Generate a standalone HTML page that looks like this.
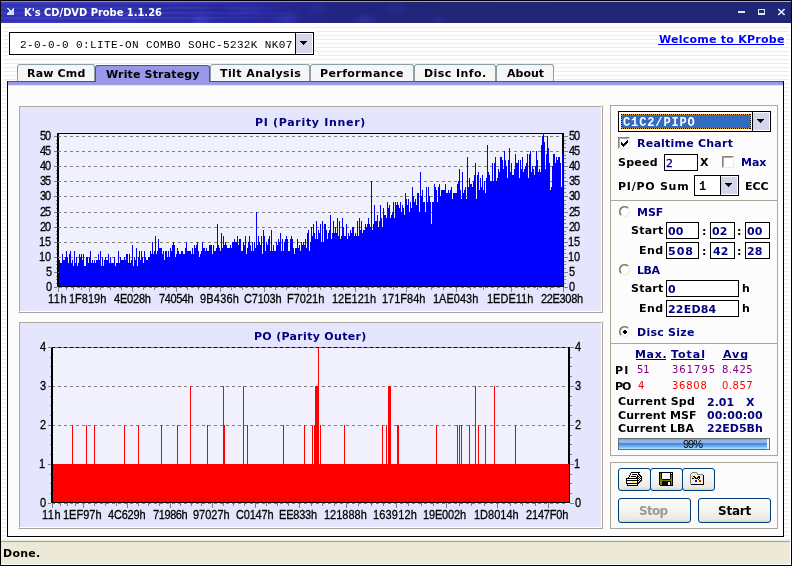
<!DOCTYPE html>
<html><head><meta charset="utf-8"><title>K's CD/DVD Probe 1.1.26</title>
<style>
html,body{margin:0;padding:0;background:#fff;}
#w{position:relative;width:792px;height:566px;overflow:hidden;background:#fff;font:bold 11px 'DejaVu Sans','Liberation Sans',sans-serif;}
#w div,#w span,#w svg,#w a{position:absolute;box-sizing:border-box;}
.t{white-space:pre;height:20px;line-height:20px;}
.stripes{left:2px;top:24px;width:788px;height:515px;background:repeating-linear-gradient(to bottom,#fff 0,#fff 3px,#eeeeee 3px,#eeeeee 4px);background-position:0 0;}
.tab{top:64px;height:18px;border:1px solid #8e9ea8;border-bottom:none;border-radius:3px 3px 0 0;background:#f6f6f6;}
.tabsel{top:65px;height:17px;border:1px solid #4c4cba;border-bottom:none;border-radius:3px 3px 0 0;background:#9898e8;}
.inp{border:1px solid #000;background:#fff;}
.cp{border:1px solid #aca899;background:#e6e6fa;}
.gb{border:1px solid #aca899;}
.btn{border:1px solid #003c74;border-radius:3px;background:linear-gradient(to bottom,#fbfbf9 0,#f4f4f0 50%,#eceae3 85%,#dad8cb 100%);}
.ul{height:1px;background:#000080;}
.chk{width:12px;height:12px;background:#fff;border:1px solid;border-color:#8a8a7c #ecebdf #ecebdf #8a8a7c;}
.chk i{position:absolute;left:0;top:0;width:10px;height:10px;border:1px solid;border-color:#aaa99b #fff #fff #aaa99b;box-sizing:border-box;}
</style></head><body>
<div id="w">

<div class="stripes"></div>
<div style="left:0;top:0;width:792px;height:23px;background:#202576;"></div>
<div style="left:1px;top:1px;width:790px;height:22px;background:radial-gradient(ellipse 12px 8px at 200px 19px,rgba(72,72,230,0.55),rgba(72,72,230,0) 100%),radial-gradient(ellipse 26px 9px at 248px 10px,rgba(60,60,200,0.35),rgba(60,60,200,0) 100%),radial-gradient(ellipse 16px 9px at 286px 18px,rgba(64,64,210,0.45),rgba(64,64,210,0) 100%),radial-gradient(ellipse 12px 4px at 216px 7px,rgba(24,24,120,0.35),rgba(24,24,120,0) 100%),radial-gradient(ellipse 13px 8px at 315px 8px,rgba(56,56,190,0.30),rgba(56,56,190,0) 100%),radial-gradient(ellipse 14px 8px at 364px 19px,rgba(64,64,200,0.40),rgba(64,64,200,0) 100%),radial-gradient(ellipse 13px 8px at 395px 7px,rgba(56,56,190,0.30),rgba(56,56,190,0) 100%),radial-gradient(ellipse 9px 6px at 438px 20px,rgba(56,56,190,0.35),rgba(56,56,190,0) 100%),radial-gradient(ellipse 30px 9px at 120px 18px,rgba(72,72,235,0.35),rgba(72,72,235,0) 100%),radial-gradient(ellipse 30px 8px at 40px 20px,rgba(70,70,230,0.30),rgba(70,70,230,0) 100%),radial-gradient(ellipse 30px 5px at 150px 6px,rgba(30,30,140,0.25),rgba(30,30,140,0) 100%),linear-gradient(to right,#3636be 0,#3333b6 100px,#2e2eac 190px,#2828a0 255px,#24268c 300px,#222480 345px,#202576 450px,#202576 100%);"></div>
<div style="left:1px;top:2px;width:320px;height:21px;background:repeating-linear-gradient(to bottom,rgba(255,255,255,.04) 0,rgba(255,255,255,.04) 2px,rgba(0,0,40,.07) 2px,rgba(0,0,40,.07) 5px);-webkit-mask-image:linear-gradient(to right,#000 0,#000 55%,transparent 100%);mask-image:linear-gradient(to right,#000 0,#000 55%,transparent 100%);"></div>
<div style="left:1px;top:1px;width:790px;height:1px;background:linear-gradient(to right,#8080e0,#9a9ad8 50%,#a8a8d8);"></div>
<div style="left:0;top:0;width:792px;height:1px;background:#000;"></div>
<div style="left:0;top:0;width:1px;height:566px;background:#000;"></div>
<div style="left:791px;top:0;width:1px;height:566px;background:#000;"></div>
<div style="left:790px;top:23px;width:1px;height:542px;background:#fff;"></div>
<svg style="left:7px;top:8px" width="7" height="7" shape-rendering="crispEdges"><path d="M0 0h2v1h-2zM6 0h1v1h-1zM1 1h2v1h-2zM5 1h2v1h-2zM2 2h5v1h-5zM2 3h5v1h-5zM1 4h6v1h-6zM0 5h7v1h-7zM0 6h7v1h-7z" fill="#cddcfa"/></svg>
<div style="left:738px;top:11px;width:7px;height:2px;background:#dfe6ff;"></div>
<div style="left:758px;top:9px;width:7px;height:6px;border:1px solid #dfe6ff;border-bottom-width:2px;"></div>
<svg style="left:777px;top:8px" width="9" height="8" viewBox="0 0 9 8"><path d="M1.2 1l6.4 6M7.6 1L1.2 7" stroke="#e4eaff" stroke-width="1.7" fill="none"/></svg>
<div style="left:8px;top:31px;width:307px;height:25px;background:#fff;"></div>
<div class="inp" style="left:9px;top:32px;width:305px;height:23px;"></div>
<div style="left:295px;top:32px;width:1px;height:23px;background:#000;"></div>
<div style="left:296px;top:34px;width:16px;height:19px;background:#d5d5ec;"></div>
<svg style="left:300px;top:41px" width="7" height="4" shape-rendering="crispEdges"><path d="M0 0h7v1h-1v1h-1v1h-1v1h-1v-1h-1v-1h-1v-1h-1z" fill="#000"/></svg>
<div style="left:658px;top:33px;width:127px;height:13px;background:#fff;"></div>
<div style="left:658px;top:44px;width:126px;height:1px;background:#0000ff;"></div>
<div style="left:7px;top:81px;width:777px;height:456px;background:#fcfcfc;border:1px solid #000;border-top:none;"></div>
<div style="left:8px;top:81px;width:775px;height:1px;background:#4a4ab8;"></div>
<div style="left:8px;top:82px;width:775px;height:3px;background:linear-gradient(to bottom,#9898e8 0,#9898e8 66%,#a2a2ec 100%);"></div>
<div style="left:8px;top:85px;width:775px;height:1px;background:#e4e4ec;"></div>
<div class="tab" style="left:17px;width:78px;height:17px;"></div>
<div class="tabsel" style="left:95px;width:115px;"></div>
<div class="tab" style="left:210px;width:100px;height:17px;"></div>
<div class="tab" style="left:310px;width:104px;height:17px;"></div>
<div class="tab" style="left:414px;width:82px;height:17px;"></div>
<div class="tab" style="left:496px;width:58px;height:17px;"></div>
<div style="left:18px;top:105px;width:585px;height:208px;border:1px solid;border-color:#fff #aca899 #aca899 #fff;"></div>
<div style="left:19px;top:106px;width:583px;height:206px;border:1px solid;border-color:#aca899 #fff #fff #aca899;background:#e5e5fe;"></div>
<div style="left:18px;top:321px;width:585px;height:208px;border:1px solid;border-color:#fff #aca899 #aca899 #fff;"></div>
<div style="left:19px;top:322px;width:583px;height:206px;border:1px solid;border-color:#aca899 #fff #fff #aca899;background:#e5e5fe;"></div>
<svg style="left:0;top:0" width="792" height="566" viewBox="0 0 792 566" shape-rendering="crispEdges">
<rect x="57" y="133" width="507" height="154" fill="#f1f1fe"/>
<path d="M58 136.5H562" stroke="#808080" stroke-width="1" stroke-dasharray="3 3" fill="none"/>
<path d="M58 151.5H562" stroke="#808080" stroke-width="1" stroke-dasharray="3 3" fill="none"/>
<path d="M58 166.5H562" stroke="#808080" stroke-width="1" stroke-dasharray="3 3" fill="none"/>
<path d="M58 181.5H562" stroke="#808080" stroke-width="1" stroke-dasharray="3 3" fill="none"/>
<path d="M58 196.5H562" stroke="#808080" stroke-width="1" stroke-dasharray="3 3" fill="none"/>
<path d="M58 212.5H562" stroke="#808080" stroke-width="1" stroke-dasharray="3 3" fill="none"/>
<path d="M58 227.5H562" stroke="#808080" stroke-width="1" stroke-dasharray="3 3" fill="none"/>
<path d="M58 242.5H562" stroke="#808080" stroke-width="1" stroke-dasharray="3 3" fill="none"/>
<path d="M58 257.5H562" stroke="#808080" stroke-width="1" stroke-dasharray="3 3" fill="none"/>
<path d="M58 272.5H562" stroke="#808080" stroke-width="1" stroke-dasharray="3 3" fill="none"/>
<rect x="57" y="133" width="2" height="154" fill="#000"/>
<rect x="562" y="133" width="2" height="154" fill="#000"/>
<rect x="58" y="136" width="1" height="1" fill="#808080"/>
<rect x="58" y="151" width="1" height="1" fill="#808080"/>
<rect x="58" y="166" width="1" height="1" fill="#808080"/>
<rect x="58" y="181" width="1" height="1" fill="#808080"/>
<rect x="58" y="196" width="1" height="1" fill="#808080"/>
<rect x="58" y="212" width="1" height="1" fill="#808080"/>
<rect x="58" y="227" width="1" height="1" fill="#808080"/>
<rect x="58" y="242" width="1" height="1" fill="#808080"/>
<rect x="58" y="257" width="1" height="1" fill="#808080"/>
<rect x="58" y="272" width="1" height="1" fill="#808080"/>
<path d="M59 286V260H60V263H61V263H62V254H63V260H64V260H65V257H66V251H67V257H68V263H69V254H70V251H71V263H72V260H73V266H74V251H75V263H76V257H77V266H78V263H79V254H80V257H81V254H82V260H83V254H84V266H85V266H86V257H87V257H88V263H89V257H90V251H91V263H92V260H93V263H94V260H95V263H96V260H97V260H98V254H99V260H100V251H101V266H102V257H103V266H104V260H105V257H106V260H107V260H108V254H109V263H110V257H111V263H112V263H113V263H114V257H115V266H116V263H117V263H118V251H119V263H120V257H121V260H122V260H123V260H124V257H125V260H126V254H127V254H128V263H129V254H130V263H131V260H132V245H133V266H134V257H135V260H136V248H137V266H138V257H139V251H140V260H141V251H142V257H143V263H144V251H145V257H146V260H147V260H148V257H149V257H150V251H151V254H152V242H153V254H154V251H155V236H156V254H157V251H158V239H159V248H160V248H161V248H162V254H163V251H164V260H165V251H166V251H167V257H168V251H169V257H170V248H171V251H172V245H173V242H174V245H175V257H176V254H177V248H178V251H179V254H180V254H181V251H182V251H183V254H184V254H185V248H186V242H187V251H188V251H189V251H190V251H191V254H192V248H193V254H194V245H195V248H196V245H197V242H198V251H199V257H200V254H201V251H202V242H203V248H204V248H205V251H206V248H207V251H208V251H209V245H210V245H211V245H212V254H213V245H214V251H215V251H216V248H217V224H218V245H219V248H220V251H221V233H222V248H223V236H224V245H225V242H226V245H227V248H228V248H229V248H230V245H231V248H232V242H233V242H234V239H235V242H236V242H237V236H238V245H239V239H240V239H241V251H242V251H243V242H244V245H245V236H246V254H247V248H248V242H249V236H250V245H251V251H252V242H253V251H254V242H255V248H256V212H257V245H258V236H259V242H260V245H261V236H262V254H263V230H264V236H265V251H266V242H267V245H268V239H269V236H270V251H271V230H272V251H273V245H274V251H275V251H276V242H277V245H278V239H279V242H280V233H281V251H282V239H283V251H284V242H285V239H286V236H287V239H288V251H289V251H290V239H291V236H292V239H293V248H294V254H295V248H296V248H297V239H298V248H299V245H300V251H301V242H302V245H303V242H304V245H305V239H306V248H307V233H308V230H309V251H310V242H311V227H312V236H313V224H314V233H315V239H316V221H317V239H318V230H319V233H320V224H321V242H322V221H323V242H324V224H325V224H326V230H327V239H328V233H329V230H330V215H331V239H332V233H333V221H334V233H335V227H336V233H337V218H338V236H339V221H340V239H341V236H342V218H343V227H344V236H345V236H346V224H347V239H348V233H349V236H350V230H351V233H352V227H353V227H354V236H355V233H356V236H357V221H358V236H359V218H360V230H361V221H362V233H363V230H364V230H365V224H366V227H367V224H368V218H369V224H370V227H371V181H372V230H373V224H374V205H375V221H376V221H377V215H378V227H379V221H380V205H381V218H382V227H383V208H384V215H385V215H386V218H387V202H388V208H389V205H390V218H391V215H392V212H393V202H394V218H395V202H396V205H397V202H398V205H399V208H400V202H401V212H402V205H403V208H404V215H405V193H406V199H407V205H408V199H409V212H410V202H411V208H412V187H413V196H414V202H415V199H416V205H417V193H418V193H419V212H420V172H421V196H422V190H423V202H424V202H425V212H426V187H427V202H428V187H429V196H430V202H431V224H432V202H433V202H434V184H435V187H436V190H437V202H438V187H439V184H440V196H441V190H442V190H443V190H444V190H445V184H446V193H447V193H448V190H449V193H450V190H451V187H452V199H453V193H454V193H455V193H456V193H457V184H458V181H459V169H460V190H461V199H462V172H463V193H464V190H465V187H466V199H467V157H468V187H469V178H470V184H471V184H472V187H473V181H474V175H475V163H476V199H477V175H478V172H479V190H480V178H481V187H482V175H483V190H484V181H485V193H486V178H487V145H488V172H489V175H490V181H491V181H492V163H493V181H494V163H495V157H496V181H497V178H498V169H499V172H500V157H501V157H502V160H503V169H504V151H505V160H506V166H507V178H508V160H509V148H510V172H511V163H512V175H513V175H514V169H515V154H516V163H517V163H518V160H519V178H520V160H521V169H522V157H523V172H524V169H525V166H526V163H527V154H528V178H529V154H530V151H531V172H532V166H533V169H534V175H535V166H536V151H537V160H538V172H539V169H540V172H541V145H542V136H543V134H544V142H545V169H546V154H547V136H548V148H549V163H550V190H551V187H552V166H553V154H554V154H555V163H556V157H557V160H558V157H559V157H560V163H561V187H562V154H563V286Z" fill="#0000ff"/>
<rect x="57" y="133" width="507" height="1" fill="#000"/>
<rect x="57" y="286" width="507" height="1" fill="#000"/>
<path d="M59 287.5H562" stroke="#808080" stroke-width="1" stroke-dasharray="3 3" fill="none"/>
<path d="M54 136.5h3M564 136.5h4M56 140.5h1M564 140.5h2M56 143.5h1M564 143.5h2M56 147.5h1M564 147.5h2M54 151.5h3M564 151.5h4M56 155.5h1M564 155.5h2M56 158.5h1M564 158.5h2M56 162.5h1M564 162.5h2M54 166.5h3M564 166.5h4M56 170.5h1M564 170.5h2M56 173.5h1M564 173.5h2M56 177.5h1M564 177.5h2M54 181.5h3M564 181.5h4M56 185.5h1M564 185.5h2M56 188.5h1M564 188.5h2M56 192.5h1M564 192.5h2M54 196.5h3M564 196.5h4M56 200.5h1M564 200.5h2M56 204.5h1M564 204.5h2M56 208.5h1M564 208.5h2M54 212.5h3M564 212.5h4M56 216.5h1M564 216.5h2M56 219.5h1M564 219.5h2M56 223.5h1M564 223.5h2M54 227.5h3M564 227.5h4M56 231.5h1M564 231.5h2M56 234.5h1M564 234.5h2M56 238.5h1M564 238.5h2M54 242.5h3M564 242.5h4M56 246.5h1M564 246.5h2M56 249.5h1M564 249.5h2M56 253.5h1M564 253.5h2M54 257.5h3M564 257.5h4M56 261.5h1M564 261.5h2M56 264.5h1M564 264.5h2M56 268.5h1M564 268.5h2M54 272.5h3M564 272.5h4M56 276.5h1M564 276.5h2M56 279.5h1M564 279.5h2M56 283.5h1M564 283.5h2M54 287.5h3M564 287.5h4" stroke="#808080" stroke-width="1" fill="none"/>
<path d="M58.5 287v5M66.5 287v3M73.5 287v3M81.5 287v3M89.5 287v5M100.5 287v3M110.5 287v3M121.5 287v3M132.5 287v5M143.5 287v3M154.5 287v3M165.5 287v3M176.5 287v5M187.5 287v3M198.5 287v3M209.5 287v3M220.5 287v5M231.5 287v3M242.5 287v3M253.5 287v3M264.5 287v5M275.5 287v3M286.5 287v3M297.5 287v3M308.5 287v5M320.5 287v3M331.5 287v3M343.5 287v3M355.5 287v5M368.5 287v3M380.5 287v3M393.5 287v3M406.5 287v5M418.5 287v3M431.5 287v3M443.5 287v3M456.5 287v5M470.5 287v3M483.5 287v3M497.5 287v3M511.5 287v5M524.5 287v3M537.5 287v3M550.5 287v3M563.5 287v5" stroke="#808080" stroke-width="1" fill="none"/>
<rect x="51" y="347" width="519" height="157" fill="#f1f1fe"/>
<path d="M52 386.5H568" stroke="#808080" stroke-width="1" stroke-dasharray="3 3" fill="none"/>
<path d="M52 425.5H568" stroke="#808080" stroke-width="1" stroke-dasharray="3 3" fill="none"/>
<path d="M52 464.5H568" stroke="#808080" stroke-width="1" stroke-dasharray="3 3" fill="none"/>
<rect x="51" y="347" width="2" height="156" fill="#000"/>
<rect x="568" y="347" width="2" height="156" fill="#000"/>
<path d="M53 464H569V502H53ZM72 425h1V464h-1ZM86 425h1V464h-1ZM94 425h1V464h-1ZM124 425h1V464h-1ZM138 425h1V464h-1ZM161 425h1V464h-1ZM177 425h1V464h-1ZM190 386h1V464h-1ZM207 425h1V464h-1ZM223 386h1V464h-1ZM224 425h1V464h-1ZM243 386h1V464h-1ZM247 425h1V464h-1ZM283 425h1V464h-1ZM304 425h1V464h-1ZM312 425h1V464h-1ZM314 425h1V464h-1ZM315 386h1V464h-1ZM316 386h1V464h-1ZM317 386h1V464h-1ZM318 347h1V464h-1ZM320 425h1V464h-1ZM344 425h1V464h-1ZM382 425h1V464h-1ZM386 425h1V464h-1ZM388 386h1V464h-1ZM389 386h1V464h-1ZM390 386h1V464h-1ZM397 425h1V464h-1ZM398 425h1V464h-1ZM436 425h1V464h-1ZM457 425h1V464h-1ZM459 425h1V464h-1ZM461 425h1V464h-1ZM469 425h1V464h-1ZM475 386h1V464h-1ZM478 425h1V464h-1ZM485 425h1V464h-1ZM494 386h1V464h-1ZM515 425h1V464h-1Z" fill="#ff0000"/>
<path d="M48 347.5H574" stroke="#808080" stroke-width="1" fill="none"/>
<path d="M52 347.5H570" stroke="#000" stroke-width="1" stroke-dasharray="3 3" fill="none"/>
<rect x="51" y="502" width="519" height="1" fill="#000"/>
<path d="M52 503.5H568" stroke="#808080" stroke-width="1" stroke-dasharray="3 3" fill="none"/>
<path d="M48 347.5h3M570 347.5h4M50 357.5h1M570 357.5h2M50 366.5h1M570 366.5h2M50 376.5h1M570 376.5h2M48 386.5h3M570 386.5h4M50 396.5h1M570 396.5h2M50 405.5h1M570 405.5h2M50 415.5h1M570 415.5h2M48 425.5h3M570 425.5h4M50 435.5h1M570 435.5h2M50 444.5h1M570 444.5h2M50 454.5h1M570 454.5h2M48 464.5h3M570 464.5h4M50 474.5h1M570 474.5h2M50 483.5h1M570 483.5h2M50 493.5h1M570 493.5h2M48 503.5h3M570 503.5h4" stroke="#808080" stroke-width="1" fill="none"/>
<path d="M52.5 503v5M60.5 503v3M67.5 503v3M75.5 503v3M83.5 503v5M94.5 503v3M105.5 503v3M116.5 503v3M127.5 503v5M138.5 503v3M148.5 503v3M159.5 503v3M170.5 503v5M180.5 503v3M191.5 503v3M201.5 503v3M212.5 503v5M223.5 503v3M233.5 503v3M244.5 503v3M255.5 503v5M266.5 503v3M277.5 503v3M288.5 503v3M299.5 503v5M311.5 503v3M322.5 503v3M334.5 503v3M346.5 503v5M358.5 503v3M371.5 503v3M383.5 503v3M396.5 503v5M408.5 503v3M421.5 503v3M433.5 503v3M446.5 503v5M459.5 503v3M471.5 503v3M484.5 503v3M497.5 503v5M510.5 503v3M522.5 503v3M535.5 503v3M548.5 503v5" stroke="#808080" stroke-width="1" fill="none"/>
</svg>
<div class="gb" style="left:610px;top:105px;width:168px;height:351px;"></div>
<div style="left:611px;top:200px;width:166px;height:1px;background:#aca899;"></div>
<div style="left:611px;top:343px;width:166px;height:1px;background:#aca899;"></div>
<div class="gb" style="left:610px;top:462px;width:168px;height:67px;"></div>
<div class="inp" style="left:618px;top:111px;width:153px;height:21px;"></div>
<div style="left:621px;top:114px;width:130px;height:15px;background:#316ac5;"></div>
<div style="left:621px;top:114px;width:130px;height:1px;background:repeating-linear-gradient(to right,#000 0,#000 1px,#f5a93c 1px,#f5a93c 2px);"></div>
<div style="left:621px;top:128px;width:130px;height:1px;background:repeating-linear-gradient(to right,#000 0,#000 1px,#f5a93c 1px,#f5a93c 2px);"></div>
<div style="left:621px;top:114px;width:1px;height:15px;background:repeating-linear-gradient(to bottom,#000 0,#000 1px,#f5a93c 1px,#f5a93c 2px);"></div>
<div style="left:750px;top:114px;width:1px;height:15px;background:repeating-linear-gradient(to bottom,#000 0,#000 1px,#f5a93c 1px,#f5a93c 2px);"></div>
<div style="left:752px;top:111px;width:1px;height:21px;background:#000;"></div>
<div style="left:753px;top:113px;width:16px;height:17px;background:#d5d5ec;"></div>
<svg style="left:757px;top:119px" width="7" height="4" shape-rendering="crispEdges"><path d="M0 0h7v1h-1v1h-1v1h-1v1h-1v-1h-1v-1h-1v-1h-1z" fill="#000"/></svg>
<div class="chk" style="left:618px;top:137px;"><i></i></div>
<svg style="left:621px;top:140px" width="7" height="7" shape-rendering="crispEdges"><path d="M0 2h1v1h1v1h1v-1h1v-1h1v-1h1v-1h1v3h-1v1h-1v1h-1v1h-1v1h-1v-1h-1v-1h-1z" fill="#000"/></svg>
<div class="inp" style="left:664px;top:154px;width:34px;height:17px;"></div>
<div class="chk" style="left:722px;top:156px;"><i></i></div>
<div class="inp" style="left:694px;top:175px;width:45px;height:21px;"></div>
<div style="left:720px;top:175px;width:1px;height:21px;background:#000;"></div>
<div style="left:721px;top:177px;width:16px;height:17px;background:#d5d5ec;"></div>
<svg style="left:725px;top:183px" width="7" height="4" shape-rendering="crispEdges"><path d="M0 0h7v1h-1v1h-1v1h-1v1h-1v-1h-1v-1h-1v-1h-1z" fill="#000"/></svg>
<svg style="left:619px;top:206px" width="12" height="12" viewBox="0 0 12 12"><circle cx="5.6" cy="5.6" r="5" fill="#fff"/><path d="M2.2 9A4.8 4.8 0 0 1 9 2.2" stroke="#808074" stroke-width="1.8" fill="none"/><path d="M9 2.2A4.8 4.8 0 0 1 2.2 9" stroke="#efeee2" stroke-width="1.2" fill="none"/></svg>
<svg style="left:619px;top:264px" width="12" height="12" viewBox="0 0 12 12"><circle cx="5.6" cy="5.6" r="5" fill="#fff"/><path d="M2.2 9A4.8 4.8 0 0 1 9 2.2" stroke="#808074" stroke-width="1.8" fill="none"/><path d="M9 2.2A4.8 4.8 0 0 1 2.2 9" stroke="#efeee2" stroke-width="1.2" fill="none"/></svg>
<svg style="left:619px;top:326px" width="12" height="12" viewBox="0 0 12 12"><circle cx="5.6" cy="5.6" r="5" fill="#fff"/><path d="M2.2 9A4.8 4.8 0 0 1 9 2.2" stroke="#808074" stroke-width="1.8" fill="none"/><path d="M9 2.2A4.8 4.8 0 0 1 2.2 9" stroke="#efeee2" stroke-width="1.2" fill="none"/><path d="M5 4h2v1h1v2h-1v1h-2v-1h-1v-2h1z" fill="#000" shape-rendering="crispEdges"/></svg>
<div class="inp" style="left:666px;top:222px;width:33px;height:17px;"></div>
<div class="inp" style="left:710px;top:222px;width:25px;height:17px;"></div>
<div class="inp" style="left:745px;top:222px;width:25px;height:17px;"></div>
<div class="inp" style="left:666px;top:242px;width:33px;height:17px;"></div>
<div class="inp" style="left:710px;top:242px;width:25px;height:17px;"></div>
<div class="inp" style="left:745px;top:242px;width:25px;height:17px;"></div>
<div class="inp" style="left:666px;top:280px;width:73px;height:17px;"></div>
<div class="inp" style="left:666px;top:300px;width:73px;height:17px;"></div>
<div class="ul" style="left:636px;top:359px;width:30px;"></div>
<div class="ul" style="left:671px;top:359px;width:33px;"></div>
<div class="ul" style="left:722px;top:359px;width:25px;"></div>
<div style="left:618px;top:438px;width:152px;height:12px;border:1px solid #6e6e6e;background:#eef3fb;"></div>
<div style="left:619px;top:439px;width:148px;height:10px;background:linear-gradient(to bottom,#7aa2e0 0,#7aa2e0 1px,#92b8ea 1px,#8eb6e8 4px,#4585de 4px,#4f8fe8 5.5px,#74b2f8 7.5px,#9ee2ff 9.5px,#a4eaff 10px);"></div>
<div class="btn" style="left:618px;top:468px;width:33px;height:23px;"></div>
<div class="btn" style="left:650px;top:468px;width:33px;height:23px;"></div>
<div class="btn" style="left:682px;top:468px;width:33px;height:23px;"></div>
<svg style="left:625px;top:472px" width="17" height="14" viewBox="0 0 17 14" shape-rendering="crispEdges"><path d="M6 0h9v1h-9zM5 1h1v1h-1zM13 1h1v1h-1zM5 2h1v1h-1zM7 2h5v1h-5zM13 2h2v1h-2zM4 3h1v1h-1zM12 3h1v1h-1zM14 3h2v1h-2zM4 4h1v1h-1zM6 4h5v1h-5zM12 4h2v1h-2zM15 4h2v1h-2zM3 5h1v1h-1zM11 5h2v1h-2zM14 5h1v1h-1zM16 5h1v1h-1zM1 6h13v1h-13zM15 6h2v1h-2zM1 7h1v1h-1zM12 7h1v1h-1zM14 7h1v1h-1zM16 7h1v1h-1zM1 8h13v1h-13zM15 8h2v1h-2zM1 9h1v1h-1zM12 9h1v1h-1zM14 9h2v1h-2zM1 10h1v1h-1zM12 10h3v1h-3zM1 11h13v1h-13zM2 12h1v1h-1zM12 12h1v1h-1zM2 13h11v1h-11z" fill="#000"/><path d="M6 1h7v1h-7zM6 2h1v1h-1zM12 2h1v1h-1zM5 3h7v1h-7zM13 3h1v1h-1zM5 4h1v1h-1zM11 4h1v1h-1zM14 4h1v1h-1zM4 5h7v1h-7zM13 5h1v1h-1zM15 5h1v1h-1zM14 6h1v1h-1zM2 7h10v1h-10zM13 7h1v1h-1zM15 7h1v1h-1zM14 8h1v1h-1zM2 9h5v1h-5zM10 9h2v1h-2zM13 9h1v1h-1zM2 10h5v1h-5zM10 10h2v1h-2zM3 12h9v1h-9z" fill="#fff"/><path d="M7 9h3v1h-3zM7 10h3v1h-3z" fill="#ffff00"/></svg>
<svg style="left:659px;top:472px" width="14" height="14" viewBox="0 0 14 14" shape-rendering="crispEdges"><path d="M0 0h14v1h-14zM0 1h1v1h-1zM2 1h1v1h-1zM11 1h1v1h-1zM13 1h1v1h-1zM0 2h1v1h-1zM2 2h1v1h-1zM11 2h3v1h-3zM0 3h1v1h-1zM2 3h1v1h-1zM11 3h1v1h-1zM13 3h1v1h-1zM0 4h1v1h-1zM2 4h1v1h-1zM11 4h1v1h-1zM13 4h1v1h-1zM0 5h1v1h-1zM2 5h1v1h-1zM11 5h1v1h-1zM13 5h1v1h-1zM0 6h1v1h-1zM2 6h1v1h-1zM11 6h1v1h-1zM13 6h1v1h-1zM0 7h1v1h-1zM3 7h8v1h-8zM13 7h1v1h-1zM0 8h1v1h-1zM13 8h1v1h-1zM0 9h1v1h-1zM3 9h9v1h-9zM13 9h1v1h-1zM0 10h1v1h-1zM3 10h6v1h-6zM11 10h1v1h-1zM13 10h1v1h-1zM0 11h1v1h-1zM3 11h6v1h-6zM11 11h1v1h-1zM13 11h1v1h-1zM0 12h1v1h-1zM3 12h6v1h-6zM11 12h1v1h-1zM13 12h1v1h-1zM1 13h13v1h-13z" fill="#000"/><path d="M1 1h1v1h-1zM1 2h1v1h-1zM1 3h1v1h-1zM12 3h1v1h-1zM1 4h1v1h-1zM12 4h1v1h-1zM1 5h1v1h-1zM12 5h1v1h-1zM1 6h1v1h-1zM12 6h1v1h-1zM1 7h2v1h-2zM11 7h2v1h-2zM1 8h12v1h-12zM1 9h2v1h-2zM12 9h1v1h-1zM1 10h2v1h-2zM12 10h1v1h-1zM1 11h2v1h-2zM12 11h1v1h-1zM1 12h2v1h-2zM12 12h1v1h-1z" fill="#808000"/><path d="M3 1h8v1h-8zM12 1h1v1h-1zM3 2h8v1h-8zM3 3h8v1h-8zM3 4h8v1h-8zM3 5h8v1h-8zM3 6h8v1h-8zM9 10h2v1h-2zM9 11h2v1h-2zM9 12h2v1h-2z" fill="#fff"/></svg>
<svg style="left:690px;top:472px" width="14" height="13" viewBox="0 0 14 13" shape-rendering="crispEdges"><path d="M2 0h5v1h-5zM1 1h1v1h-1zM7 1h1v1h-1zM0 2h1v1h-1zM7 2h6v1h-6zM0 3h1v1h-1zM0 4h1v1h-1zM0 5h1v1h-1zM0 6h1v1h-1zM0 7h1v1h-1zM0 8h1v1h-1zM0 9h1v1h-1zM0 10h1v1h-1zM0 11h1v1h-1z" fill="#808080"/><path d="M2 1h1v1h-1zM4 1h1v1h-1zM6 1h1v1h-1zM1 2h1v1h-1zM3 2h1v1h-1zM5 2h1v1h-1zM2 3h1v1h-1zM4 3h1v1h-1zM6 3h1v1h-1zM8 3h1v1h-1zM10 3h1v1h-1zM12 3h1v1h-1zM1 4h1v1h-1zM6 4h1v1h-1zM11 4h1v1h-1zM2 5h1v1h-1zM10 5h1v1h-1zM12 5h1v1h-1zM1 6h1v1h-1zM11 6h1v1h-1zM2 7h1v1h-1zM4 7h1v1h-1zM6 7h1v1h-1zM10 7h1v1h-1zM12 7h1v1h-1zM1 8h1v1h-1zM3 8h1v1h-1zM8 8h1v1h-1zM11 8h1v1h-1zM2 9h1v1h-1zM4 9h1v1h-1zM7 9h1v1h-1zM12 9h1v1h-1zM1 10h1v1h-1zM3 10h1v1h-1zM5 10h1v1h-1zM7 10h1v1h-1zM9 10h1v1h-1zM11 10h1v1h-1zM2 11h1v1h-1zM4 11h1v1h-1zM6 11h1v1h-1zM8 11h1v1h-1zM10 11h1v1h-1zM12 11h1v1h-1z" fill="#ffff00"/><path d="M3 1h1v1h-1zM5 1h1v1h-1zM2 2h1v1h-1zM4 2h1v1h-1zM6 2h1v1h-1zM1 3h1v1h-1zM3 3h1v1h-1zM5 3h1v1h-1zM7 3h1v1h-1zM9 3h1v1h-1zM11 3h1v1h-1zM2 4h1v1h-1zM5 4h1v1h-1zM7 4h1v1h-1zM10 4h1v1h-1zM12 4h1v1h-1zM1 5h1v1h-1zM3 5h1v1h-1zM6 5h1v1h-1zM11 5h1v1h-1zM4 6h1v1h-1zM8 6h1v1h-1zM10 6h1v1h-1zM12 6h1v1h-1zM1 7h1v1h-1zM3 7h1v1h-1zM5 7h1v1h-1zM7 7h1v1h-1zM9 7h1v1h-1zM11 7h1v1h-1zM2 8h1v1h-1zM4 8h1v1h-1zM7 8h1v1h-1zM12 8h1v1h-1zM1 9h1v1h-1zM3 9h1v1h-1zM8 9h1v1h-1zM11 9h1v1h-1zM2 10h1v1h-1zM4 10h1v1h-1zM6 10h1v1h-1zM8 10h1v1h-1zM10 10h1v1h-1zM12 10h1v1h-1zM1 11h1v1h-1zM3 11h1v1h-1zM5 11h1v1h-1zM7 11h1v1h-1zM9 11h1v1h-1zM11 11h1v1h-1z" fill="#fff"/><path d="M13 3h1v1h-1zM3 4h2v1h-2zM8 4h2v1h-2zM13 4h1v1h-1zM4 5h2v1h-2zM7 5h3v1h-3zM13 5h1v1h-1zM2 6h2v1h-2zM5 6h3v1h-3zM9 6h1v1h-1zM13 6h1v1h-1zM8 7h1v1h-1zM13 7h1v1h-1zM13 8h1v1h-1zM13 9h1v1h-1zM13 10h1v1h-1zM13 11h1v1h-1zM1 12h13v1h-13z" fill="#000"/><path d="M5 8h2v1h-2zM5 9h2v1h-2z" fill="#0000ff"/><path d="M9 8h2v1h-2zM9 9h2v1h-2z" fill="#ff0000"/></svg>
<div class="btn" style="left:618px;top:498px;width:73px;height:25px;"></div>
<div class="btn" style="left:698px;top:498px;width:73px;height:25px;"></div>
<div style="left:1px;top:539px;width:789px;height:25px;background:#ece9d8;"></div>
<div style="left:1px;top:539px;width:789px;height:2px;background:#f1efe2;"></div>
<div style="left:1px;top:541px;width:789px;height:1px;background:#a5a290;"></div>
<div style="left:1px;top:564px;width:790px;height:1px;background:#fff;"></div>
<div style="left:0;top:565px;width:792px;height:1px;background:#000;"></div>
<span class="t" style="left:24px;top:3px;font:bold 11px 'DejaVu Sans Condensed','DejaVu Sans','Liberation Sans',sans-serif;line-height:20px;color:#fff;">K's CD/DVD Probe 1.1.26</span>
<span class="t" style="left:20px;top:35px;font:11px 'Liberation Mono',monospace;line-height:20px;color:#000;letter-spacing:0.395px;">2-0-0-0 0:LITE-ON COMBO SOHC-5232K NK07</span>
<span class="t" style="left:659px;top:30px;font:bold 11px 'DejaVu Sans','Liberation Sans',sans-serif;line-height:20px;color:#0000ff;letter-spacing:0.25px;">Welcome to KProbe</span>
<span class="t" style="left:27px;top:64px;font:bold 11px 'DejaVu Sans','Liberation Sans',sans-serif;line-height:20px;color:#000;letter-spacing:0.167px;">Raw Cmd</span>
<span class="t" style="left:106px;top:65px;font:bold 11px 'DejaVu Sans','Liberation Sans',sans-serif;line-height:20px;color:#000;letter-spacing:0.154px;">Write Strategy</span>
<span class="t" style="left:220px;top:64px;font:bold 11px 'DejaVu Sans','Liberation Sans',sans-serif;line-height:20px;color:#000;letter-spacing:0.417px;">Tilt Analysis</span>
<span class="t" style="left:320px;top:64px;font:bold 11px 'DejaVu Sans','Liberation Sans',sans-serif;line-height:20px;color:#000;letter-spacing:0.4px;">Performance</span>
<span class="t" style="left:424px;top:64px;font:bold 11px 'DejaVu Sans','Liberation Sans',sans-serif;line-height:20px;color:#000;letter-spacing:0.444px;">Disc Info.</span>
<span class="t" style="left:507px;top:64px;font:bold 11px 'DejaVu Sans','Liberation Sans',sans-serif;line-height:20px;color:#000;">About</span>
<span class="t" style="left:255px;top:113px;font:bold 11px 'DejaVu Sans','Liberation Sans',sans-serif;line-height:20px;color:#000080;letter-spacing:0.688px;">PI (Parity Inner)</span>
<span class="t" style="left:254px;top:327px;font:bold 11px 'DejaVu Sans','Liberation Sans',sans-serif;line-height:20px;color:#000080;letter-spacing:0.312px;">PO (Parity Outer)</span>
<span class="t" style="left:48px;top:288px;font:11px 'Liberation Sans',sans-serif;line-height:20px;color:#000;letter-spacing:0.5px;transform:scaleY(1.13);transform-origin:0 50%;-webkit-text-stroke:0.25px #000;">11h</span>
<span class="t" style="left:69px;top:288px;font:11px 'Liberation Sans',sans-serif;line-height:20px;color:#000;transform:scaleY(1.13);transform-origin:0 50%;-webkit-text-stroke:0.25px #000;">1F819h</span>
<span class="t" style="left:114px;top:288px;font:11px 'Liberation Sans',sans-serif;line-height:20px;color:#000;letter-spacing:-0.2px;transform:scaleY(1.13);transform-origin:0 50%;-webkit-text-stroke:0.25px #000;">4E028h</span>
<span class="t" style="left:159px;top:288px;font:11px 'Liberation Sans',sans-serif;line-height:20px;color:#000;letter-spacing:-0.4px;transform:scaleY(1.13);transform-origin:0 50%;-webkit-text-stroke:0.25px #000;">74054h</span>
<span class="t" style="left:200px;top:288px;font:11px 'Liberation Sans',sans-serif;line-height:20px;color:#000;letter-spacing:0.2px;transform:scaleY(1.13);transform-origin:0 50%;-webkit-text-stroke:0.25px #000;">9B436h</span>
<span class="t" style="left:244px;top:288px;font:11px 'Liberation Sans',sans-serif;line-height:20px;color:#000;letter-spacing:-0.2px;transform:scaleY(1.13);transform-origin:0 50%;-webkit-text-stroke:0.25px #000;">C7103h</span>
<span class="t" style="left:287px;top:288px;font:11px 'Liberation Sans',sans-serif;line-height:20px;color:#000;transform:scaleY(1.13);transform-origin:0 50%;-webkit-text-stroke:0.25px #000;">F7021h</span>
<span class="t" style="left:332px;top:288px;font:11px 'Liberation Sans',sans-serif;line-height:20px;color:#000;transform:scaleY(1.13);transform-origin:0 50%;-webkit-text-stroke:0.25px #000;">12E121h</span>
<span class="t" style="left:382px;top:288px;font:11px 'Liberation Sans',sans-serif;line-height:20px;color:#000;transform:scaleY(1.13);transform-origin:0 50%;-webkit-text-stroke:0.25px #000;">171F84h</span>
<span class="t" style="left:433px;top:288px;font:11px 'Liberation Sans',sans-serif;line-height:20px;color:#000;transform:scaleY(1.13);transform-origin:0 50%;-webkit-text-stroke:0.25px #000;">1AE043h</span>
<span class="t" style="left:487px;top:288px;font:11px 'Liberation Sans',sans-serif;line-height:20px;color:#000;transform:scaleY(1.13);transform-origin:0 50%;-webkit-text-stroke:0.25px #000;">1EDE11h</span>
<span class="t" style="left:541px;top:288px;font:11px 'Liberation Sans',sans-serif;line-height:20px;color:#000;letter-spacing:-0.333px;transform:scaleY(1.13);transform-origin:0 50%;-webkit-text-stroke:0.25px #000;">22E308h</span>
<span class="t" style="left:42px;top:504px;font:11px 'Liberation Sans',sans-serif;line-height:20px;color:#000;letter-spacing:0.5px;transform:scaleY(1.13);transform-origin:0 50%;-webkit-text-stroke:0.25px #000;">11h</span>
<span class="t" style="left:63px;top:504px;font:11px 'Liberation Sans',sans-serif;line-height:20px;color:#000;transform:scaleY(1.13);transform-origin:0 50%;-webkit-text-stroke:0.25px #000;">1EF97h</span>
<span class="t" style="left:108px;top:504px;font:11px 'Liberation Sans',sans-serif;line-height:20px;color:#000;letter-spacing:-0.2px;transform:scaleY(1.13);transform-origin:0 50%;-webkit-text-stroke:0.25px #000;">4C629h</span>
<span class="t" style="left:153px;top:504px;font:11px 'Liberation Sans',sans-serif;line-height:20px;color:#000;letter-spacing:-0.4px;transform:scaleY(1.13);transform-origin:0 50%;-webkit-text-stroke:0.25px #000;">71986h</span>
<span class="t" style="left:193px;top:504px;font:11px 'Liberation Sans',sans-serif;line-height:20px;color:#000;transform:scaleY(1.13);transform-origin:0 50%;-webkit-text-stroke:0.25px #000;">97027h</span>
<span class="t" style="left:236px;top:504px;font:11px 'Liberation Sans',sans-serif;line-height:20px;color:#000;letter-spacing:-0.2px;transform:scaleY(1.13);transform-origin:0 50%;-webkit-text-stroke:0.25px #000;">C0147h</span>
<span class="t" style="left:279px;top:504px;font:11px 'Liberation Sans',sans-serif;line-height:20px;color:#000;letter-spacing:-0.2px;transform:scaleY(1.13);transform-origin:0 50%;-webkit-text-stroke:0.25px #000;">EE833h</span>
<span class="t" style="left:324px;top:504px;font:11px 'Liberation Sans',sans-serif;line-height:20px;color:#000;transform:scaleY(1.13);transform-origin:0 50%;-webkit-text-stroke:0.25px #000;">121888h</span>
<span class="t" style="left:373px;top:504px;font:11px 'Liberation Sans',sans-serif;line-height:20px;color:#000;letter-spacing:0.167px;transform:scaleY(1.13);transform-origin:0 50%;-webkit-text-stroke:0.25px #000;">163912h</span>
<span class="t" style="left:423px;top:504px;font:11px 'Liberation Sans',sans-serif;line-height:20px;color:#000;letter-spacing:-0.167px;transform:scaleY(1.13);transform-origin:0 50%;-webkit-text-stroke:0.25px #000;">19E002h</span>
<span class="t" style="left:474px;top:504px;font:11px 'Liberation Sans',sans-serif;line-height:20px;color:#000;transform:scaleY(1.13);transform-origin:0 50%;-webkit-text-stroke:0.25px #000;">1D8014h</span>
<span class="t" style="left:526px;top:504px;font:11px 'Liberation Sans',sans-serif;line-height:20px;color:#000;letter-spacing:-0.167px;transform:scaleY(1.13);transform-origin:0 50%;-webkit-text-stroke:0.25px #000;">2147F0h</span>
<span class="t" style="left:623px;top:113px;font:bold 12px 'Liberation Mono',monospace;line-height:20px;color:#fff;letter-spacing:0.875px;">C1C2/PIPO</span>
<span class="t" style="left:637px;top:134px;font:bold 11px 'DejaVu Sans','Liberation Sans',sans-serif;line-height:20px;color:#000080;letter-spacing:0.231px;">Realtime Chart</span>
<span class="t" style="left:618px;top:153px;font:bold 11px 'DejaVu Sans','Liberation Sans',sans-serif;line-height:20px;color:#000;letter-spacing:0.25px;">Speed</span>
<span class="t" style="left:666px;top:154px;font:11px 'DejaVu Sans','Liberation Sans',sans-serif;line-height:20px;color:#000080;-webkit-text-stroke:0.3px #000080;">2</span>
<span class="t" style="left:700px;top:153px;font:bold 11px 'DejaVu Sans','Liberation Sans',sans-serif;line-height:20px;color:#000;">X</span>
<span class="t" style="left:741px;top:153px;font:bold 11px 'DejaVu Sans','Liberation Sans',sans-serif;line-height:20px;color:#000080;">Max</span>
<span class="t" style="left:618px;top:177px;font:bold 11px 'DejaVu Sans','Liberation Sans',sans-serif;line-height:20px;color:#000;letter-spacing:0.75px;">PI/PO Sum</span>
<span class="t" style="left:699px;top:177px;font:bold 12px 'Liberation Mono',monospace;line-height:20px;color:#000;">1</span>
<span class="t" style="left:745px;top:177px;font:bold 11px 'DejaVu Sans','Liberation Sans',sans-serif;line-height:20px;color:#000;">ECC</span>
<span class="t" style="left:637px;top:203px;font:bold 11px 'DejaVu Sans','Liberation Sans',sans-serif;line-height:20px;color:#000080;">MSF</span>
<span class="t" style="left:631px;top:221px;font:bold 11px 'DejaVu Sans','Liberation Sans',sans-serif;line-height:20px;color:#000;letter-spacing:0.25px;">Start</span>
<span class="t" style="left:668px;top:222px;font:bold 11px 'DejaVu Sans','Liberation Sans',sans-serif;line-height:20px;color:#000080;">00</span>
<span class="t" style="left:702px;top:222px;font:bold 11px 'DejaVu Sans','Liberation Sans',sans-serif;line-height:20px;color:#000;">:</span>
<span class="t" style="left:712px;top:222px;font:bold 11px 'DejaVu Sans','Liberation Sans',sans-serif;line-height:20px;color:#000080;">02</span>
<span class="t" style="left:737px;top:222px;font:bold 11px 'DejaVu Sans','Liberation Sans',sans-serif;line-height:20px;color:#000;">:</span>
<span class="t" style="left:747px;top:222px;font:bold 11px 'DejaVu Sans','Liberation Sans',sans-serif;line-height:20px;color:#000080;">00</span>
<span class="t" style="left:639px;top:241px;font:bold 11px 'DejaVu Sans','Liberation Sans',sans-serif;line-height:20px;color:#000;letter-spacing:0.5px;">End</span>
<span class="t" style="left:668px;top:242px;font:bold 11px 'DejaVu Sans','Liberation Sans',sans-serif;line-height:20px;color:#000080;letter-spacing:1px;">508</span>
<span class="t" style="left:702px;top:242px;font:bold 11px 'DejaVu Sans','Liberation Sans',sans-serif;line-height:20px;color:#000;">:</span>
<span class="t" style="left:713px;top:242px;font:bold 11px 'DejaVu Sans','Liberation Sans',sans-serif;line-height:20px;color:#000080;">42</span>
<span class="t" style="left:737px;top:242px;font:bold 11px 'DejaVu Sans','Liberation Sans',sans-serif;line-height:20px;color:#000;">:</span>
<span class="t" style="left:747px;top:242px;font:bold 11px 'DejaVu Sans','Liberation Sans',sans-serif;line-height:20px;color:#000080;">28</span>
<span class="t" style="left:637px;top:261px;font:bold 11px 'DejaVu Sans','Liberation Sans',sans-serif;line-height:20px;color:#000080;letter-spacing:-0.5px;">LBA</span>
<span class="t" style="left:631px;top:279px;font:bold 11px 'DejaVu Sans','Liberation Sans',sans-serif;line-height:20px;color:#000;letter-spacing:0.25px;">Start</span>
<span class="t" style="left:668px;top:280px;font:bold 11px 'DejaVu Sans','Liberation Sans',sans-serif;line-height:20px;color:#000080;">0</span>
<span class="t" style="left:742px;top:279px;font:bold 11px 'DejaVu Sans','Liberation Sans',sans-serif;line-height:20px;color:#000;">h</span>
<span class="t" style="left:639px;top:299px;font:bold 11px 'DejaVu Sans','Liberation Sans',sans-serif;line-height:20px;color:#000;letter-spacing:0.5px;">End</span>
<span class="t" style="left:668px;top:300px;font:bold 11px 'DejaVu Sans','Liberation Sans',sans-serif;line-height:20px;color:#000080;letter-spacing:0.2px;">22ED84</span>
<span class="t" style="left:742px;top:299px;font:bold 11px 'DejaVu Sans','Liberation Sans',sans-serif;line-height:20px;color:#000;">h</span>
<span class="t" style="left:637px;top:323px;font:bold 11px 'DejaVu Sans','Liberation Sans',sans-serif;line-height:20px;color:#000080;letter-spacing:0.25px;">Disc Size</span>
<span class="t" style="left:635px;top:345px;font:bold 11px 'DejaVu Sans','Liberation Sans',sans-serif;line-height:20px;color:#000080;letter-spacing:0.667px;">Max.</span>
<span class="t" style="left:671px;top:345px;font:bold 11px 'DejaVu Sans','Liberation Sans',sans-serif;line-height:20px;color:#000080;letter-spacing:1px;">Total</span>
<span class="t" style="left:723px;top:345px;font:bold 11px 'DejaVu Sans','Liberation Sans',sans-serif;line-height:20px;color:#000080;letter-spacing:1px;">Avg</span>
<span class="t" style="left:615px;top:361px;font:bold 11px 'DejaVu Sans','Liberation Sans',sans-serif;line-height:20px;color:#000;letter-spacing:1.2px;">PI</span>
<span class="t" style="left:637px;top:360px;font:10px 'DejaVu Sans','Liberation Sans',sans-serif;line-height:20px;color:#800080;">51</span>
<span class="t" style="left:672px;top:360px;font:10px 'DejaVu Sans','Liberation Sans',sans-serif;line-height:20px;color:#800080;letter-spacing:1px;">361795</span>
<span class="t" style="left:722px;top:360px;font:10px 'DejaVu Sans','Liberation Sans',sans-serif;line-height:20px;color:#800080;letter-spacing:0.5px;">8.425</span>
<span class="t" style="left:615px;top:377px;font:bold 11px 'DejaVu Sans','Liberation Sans',sans-serif;line-height:20px;color:#000;letter-spacing:-1px;">PO</span>
<span class="t" style="left:638px;top:376px;font:10px 'DejaVu Sans','Liberation Sans',sans-serif;line-height:20px;color:#ff0000;">4</span>
<span class="t" style="left:672px;top:376px;font:10px 'DejaVu Sans','Liberation Sans',sans-serif;line-height:20px;color:#ff0000;letter-spacing:0.75px;">36808</span>
<span class="t" style="left:722px;top:376px;font:10px 'DejaVu Sans','Liberation Sans',sans-serif;line-height:20px;color:#ff0000;letter-spacing:0.5px;">0.857</span>
<span class="t" style="left:618px;top:392px;font:bold 11px 'DejaVu Sans','Liberation Sans',sans-serif;line-height:20px;color:#000;letter-spacing:0.2px;">Current Spd</span>
<span class="t" style="left:707px;top:393px;font:bold 11px 'DejaVu Sans','Liberation Sans',sans-serif;line-height:20px;color:#000080;">2.01</span>
<span class="t" style="left:746px;top:393px;font:bold 11px 'DejaVu Sans','Liberation Sans',sans-serif;line-height:20px;color:#000080;">X</span>
<span class="t" style="left:618px;top:406px;font:bold 11px 'DejaVu Sans','Liberation Sans',sans-serif;line-height:20px;color:#000;letter-spacing:0.1px;">Current MSF</span>
<span class="t" style="left:707px;top:406px;font:bold 11px 'DejaVu Sans','Liberation Sans',sans-serif;line-height:20px;color:#000080;letter-spacing:0.143px;">00:00:00</span>
<span class="t" style="left:618px;top:419px;font:bold 11px 'DejaVu Sans','Liberation Sans',sans-serif;line-height:20px;color:#000;letter-spacing:0.1px;">Current LBA</span>
<span class="t" style="left:707px;top:419px;font:bold 11px 'DejaVu Sans','Liberation Sans',sans-serif;line-height:20px;color:#000080;">22ED5Bh</span>
<span class="t" style="left:683px;top:434px;font:11px 'Liberation Sans',sans-serif;line-height:20px;color:#000;letter-spacing:-1px;transform:scaleY(1.04);transform-origin:0 50%;">99%</span>
<span class="t" style="left:639px;top:501px;font:bold 12px 'DejaVu Sans','Liberation Sans',sans-serif;line-height:20px;color:#9a9a94;letter-spacing:-0.667px;">Stop</span>
<span class="t" style="left:718px;top:501px;font:bold 12px 'DejaVu Sans','Liberation Sans',sans-serif;line-height:20px;color:#000;letter-spacing:-0.25px;">Start</span>
<span class="t" style="left:3px;top:544px;font:bold 11px 'DejaVu Sans','Liberation Sans',sans-serif;line-height:20px;color:#000;letter-spacing:0.25px;">Done.</span>
<span class="t" style="left:40px;top:125px;font:11px 'Liberation Sans',sans-serif;line-height:20px;color:#000;letter-spacing:-1px;transform:scaleY(1.13);transform-origin:0 50%;-webkit-text-stroke:0.25px #000;">50</span>
<span class="t" style="left:569px;top:125px;font:11px 'Liberation Sans',sans-serif;line-height:20px;color:#000;letter-spacing:-1px;transform:scaleY(1.13);transform-origin:0 50%;-webkit-text-stroke:0.25px #000;">50</span>
<span class="t" style="left:40px;top:140px;font:11px 'Liberation Sans',sans-serif;line-height:20px;color:#000;letter-spacing:-1px;transform:scaleY(1.13);transform-origin:0 50%;-webkit-text-stroke:0.25px #000;">45</span>
<span class="t" style="left:569px;top:140px;font:11px 'Liberation Sans',sans-serif;line-height:20px;color:#000;letter-spacing:-1px;transform:scaleY(1.13);transform-origin:0 50%;-webkit-text-stroke:0.25px #000;">45</span>
<span class="t" style="left:40px;top:155px;font:11px 'Liberation Sans',sans-serif;line-height:20px;color:#000;letter-spacing:-1px;transform:scaleY(1.13);transform-origin:0 50%;-webkit-text-stroke:0.25px #000;">40</span>
<span class="t" style="left:569px;top:155px;font:11px 'Liberation Sans',sans-serif;line-height:20px;color:#000;letter-spacing:-1px;transform:scaleY(1.13);transform-origin:0 50%;-webkit-text-stroke:0.25px #000;">40</span>
<span class="t" style="left:40px;top:170px;font:11px 'Liberation Sans',sans-serif;line-height:20px;color:#000;letter-spacing:-1px;transform:scaleY(1.13);transform-origin:0 50%;-webkit-text-stroke:0.25px #000;">35</span>
<span class="t" style="left:569px;top:170px;font:11px 'Liberation Sans',sans-serif;line-height:20px;color:#000;letter-spacing:-1px;transform:scaleY(1.13);transform-origin:0 50%;-webkit-text-stroke:0.25px #000;">35</span>
<span class="t" style="left:40px;top:185px;font:11px 'Liberation Sans',sans-serif;line-height:20px;color:#000;letter-spacing:-1px;transform:scaleY(1.13);transform-origin:0 50%;-webkit-text-stroke:0.25px #000;">30</span>
<span class="t" style="left:569px;top:185px;font:11px 'Liberation Sans',sans-serif;line-height:20px;color:#000;letter-spacing:-1px;transform:scaleY(1.13);transform-origin:0 50%;-webkit-text-stroke:0.25px #000;">30</span>
<span class="t" style="left:40px;top:201px;font:11px 'Liberation Sans',sans-serif;line-height:20px;color:#000;letter-spacing:-1px;transform:scaleY(1.13);transform-origin:0 50%;-webkit-text-stroke:0.25px #000;">25</span>
<span class="t" style="left:569px;top:201px;font:11px 'Liberation Sans',sans-serif;line-height:20px;color:#000;letter-spacing:-1px;transform:scaleY(1.13);transform-origin:0 50%;-webkit-text-stroke:0.25px #000;">25</span>
<span class="t" style="left:40px;top:216px;font:11px 'Liberation Sans',sans-serif;line-height:20px;color:#000;letter-spacing:-1px;transform:scaleY(1.13);transform-origin:0 50%;-webkit-text-stroke:0.25px #000;">20</span>
<span class="t" style="left:569px;top:216px;font:11px 'Liberation Sans',sans-serif;line-height:20px;color:#000;letter-spacing:-1px;transform:scaleY(1.13);transform-origin:0 50%;-webkit-text-stroke:0.25px #000;">20</span>
<span class="t" style="left:39px;top:231px;font:11px 'Liberation Sans',sans-serif;line-height:20px;color:#000;transform:scaleY(1.13);transform-origin:0 50%;-webkit-text-stroke:0.25px #000;">15</span>
<span class="t" style="left:568px;top:231px;font:11px 'Liberation Sans',sans-serif;line-height:20px;color:#000;transform:scaleY(1.13);transform-origin:0 50%;-webkit-text-stroke:0.25px #000;">15</span>
<span class="t" style="left:39px;top:246px;font:11px 'Liberation Sans',sans-serif;line-height:20px;color:#000;transform:scaleY(1.13);transform-origin:0 50%;-webkit-text-stroke:0.25px #000;">10</span>
<span class="t" style="left:568px;top:246px;font:11px 'Liberation Sans',sans-serif;line-height:20px;color:#000;transform:scaleY(1.13);transform-origin:0 50%;-webkit-text-stroke:0.25px #000;">10</span>
<span class="t" style="left:46px;top:261px;font:11px 'Liberation Sans',sans-serif;line-height:20px;color:#000;transform:scaleY(1.13);transform-origin:0 50%;-webkit-text-stroke:0.25px #000;">5</span>
<span class="t" style="left:569px;top:261px;font:11px 'Liberation Sans',sans-serif;line-height:20px;color:#000;transform:scaleY(1.13);transform-origin:0 50%;-webkit-text-stroke:0.25px #000;">5</span>
<span class="t" style="left:46px;top:276px;font:11px 'Liberation Sans',sans-serif;line-height:20px;color:#000;transform:scaleY(1.13);transform-origin:0 50%;-webkit-text-stroke:0.25px #000;">0</span>
<span class="t" style="left:569px;top:276px;font:11px 'Liberation Sans',sans-serif;line-height:20px;color:#000;transform:scaleY(1.13);transform-origin:0 50%;-webkit-text-stroke:0.25px #000;">0</span>
<span class="t" style="left:40px;top:336px;font:11px 'Liberation Sans',sans-serif;line-height:20px;color:#000;transform:scaleY(1.13);transform-origin:0 50%;-webkit-text-stroke:0.25px #000;">4</span>
<span class="t" style="left:575px;top:336px;font:11px 'Liberation Sans',sans-serif;line-height:20px;color:#000;transform:scaleY(1.13);transform-origin:0 50%;-webkit-text-stroke:0.25px #000;">4</span>
<span class="t" style="left:40px;top:375px;font:11px 'Liberation Sans',sans-serif;line-height:20px;color:#000;transform:scaleY(1.13);transform-origin:0 50%;-webkit-text-stroke:0.25px #000;">3</span>
<span class="t" style="left:575px;top:375px;font:11px 'Liberation Sans',sans-serif;line-height:20px;color:#000;transform:scaleY(1.13);transform-origin:0 50%;-webkit-text-stroke:0.25px #000;">3</span>
<span class="t" style="left:40px;top:414px;font:11px 'Liberation Sans',sans-serif;line-height:20px;color:#000;transform:scaleY(1.13);transform-origin:0 50%;-webkit-text-stroke:0.25px #000;">2</span>
<span class="t" style="left:575px;top:414px;font:11px 'Liberation Sans',sans-serif;line-height:20px;color:#000;transform:scaleY(1.13);transform-origin:0 50%;-webkit-text-stroke:0.25px #000;">2</span>
<span class="t" style="left:39px;top:453px;font:11px 'Liberation Sans',sans-serif;line-height:20px;color:#000;transform:scaleY(1.13);transform-origin:0 50%;-webkit-text-stroke:0.25px #000;">1</span>
<span class="t" style="left:574px;top:453px;font:11px 'Liberation Sans',sans-serif;line-height:20px;color:#000;transform:scaleY(1.13);transform-origin:0 50%;-webkit-text-stroke:0.25px #000;">1</span>
<span class="t" style="left:40px;top:492px;font:11px 'Liberation Sans',sans-serif;line-height:20px;color:#000;transform:scaleY(1.13);transform-origin:0 50%;-webkit-text-stroke:0.25px #000;">0</span>
<span class="t" style="left:575px;top:492px;font:11px 'Liberation Sans',sans-serif;line-height:20px;color:#000;transform:scaleY(1.13);transform-origin:0 50%;-webkit-text-stroke:0.25px #000;">0</span>
</div></body></html>
